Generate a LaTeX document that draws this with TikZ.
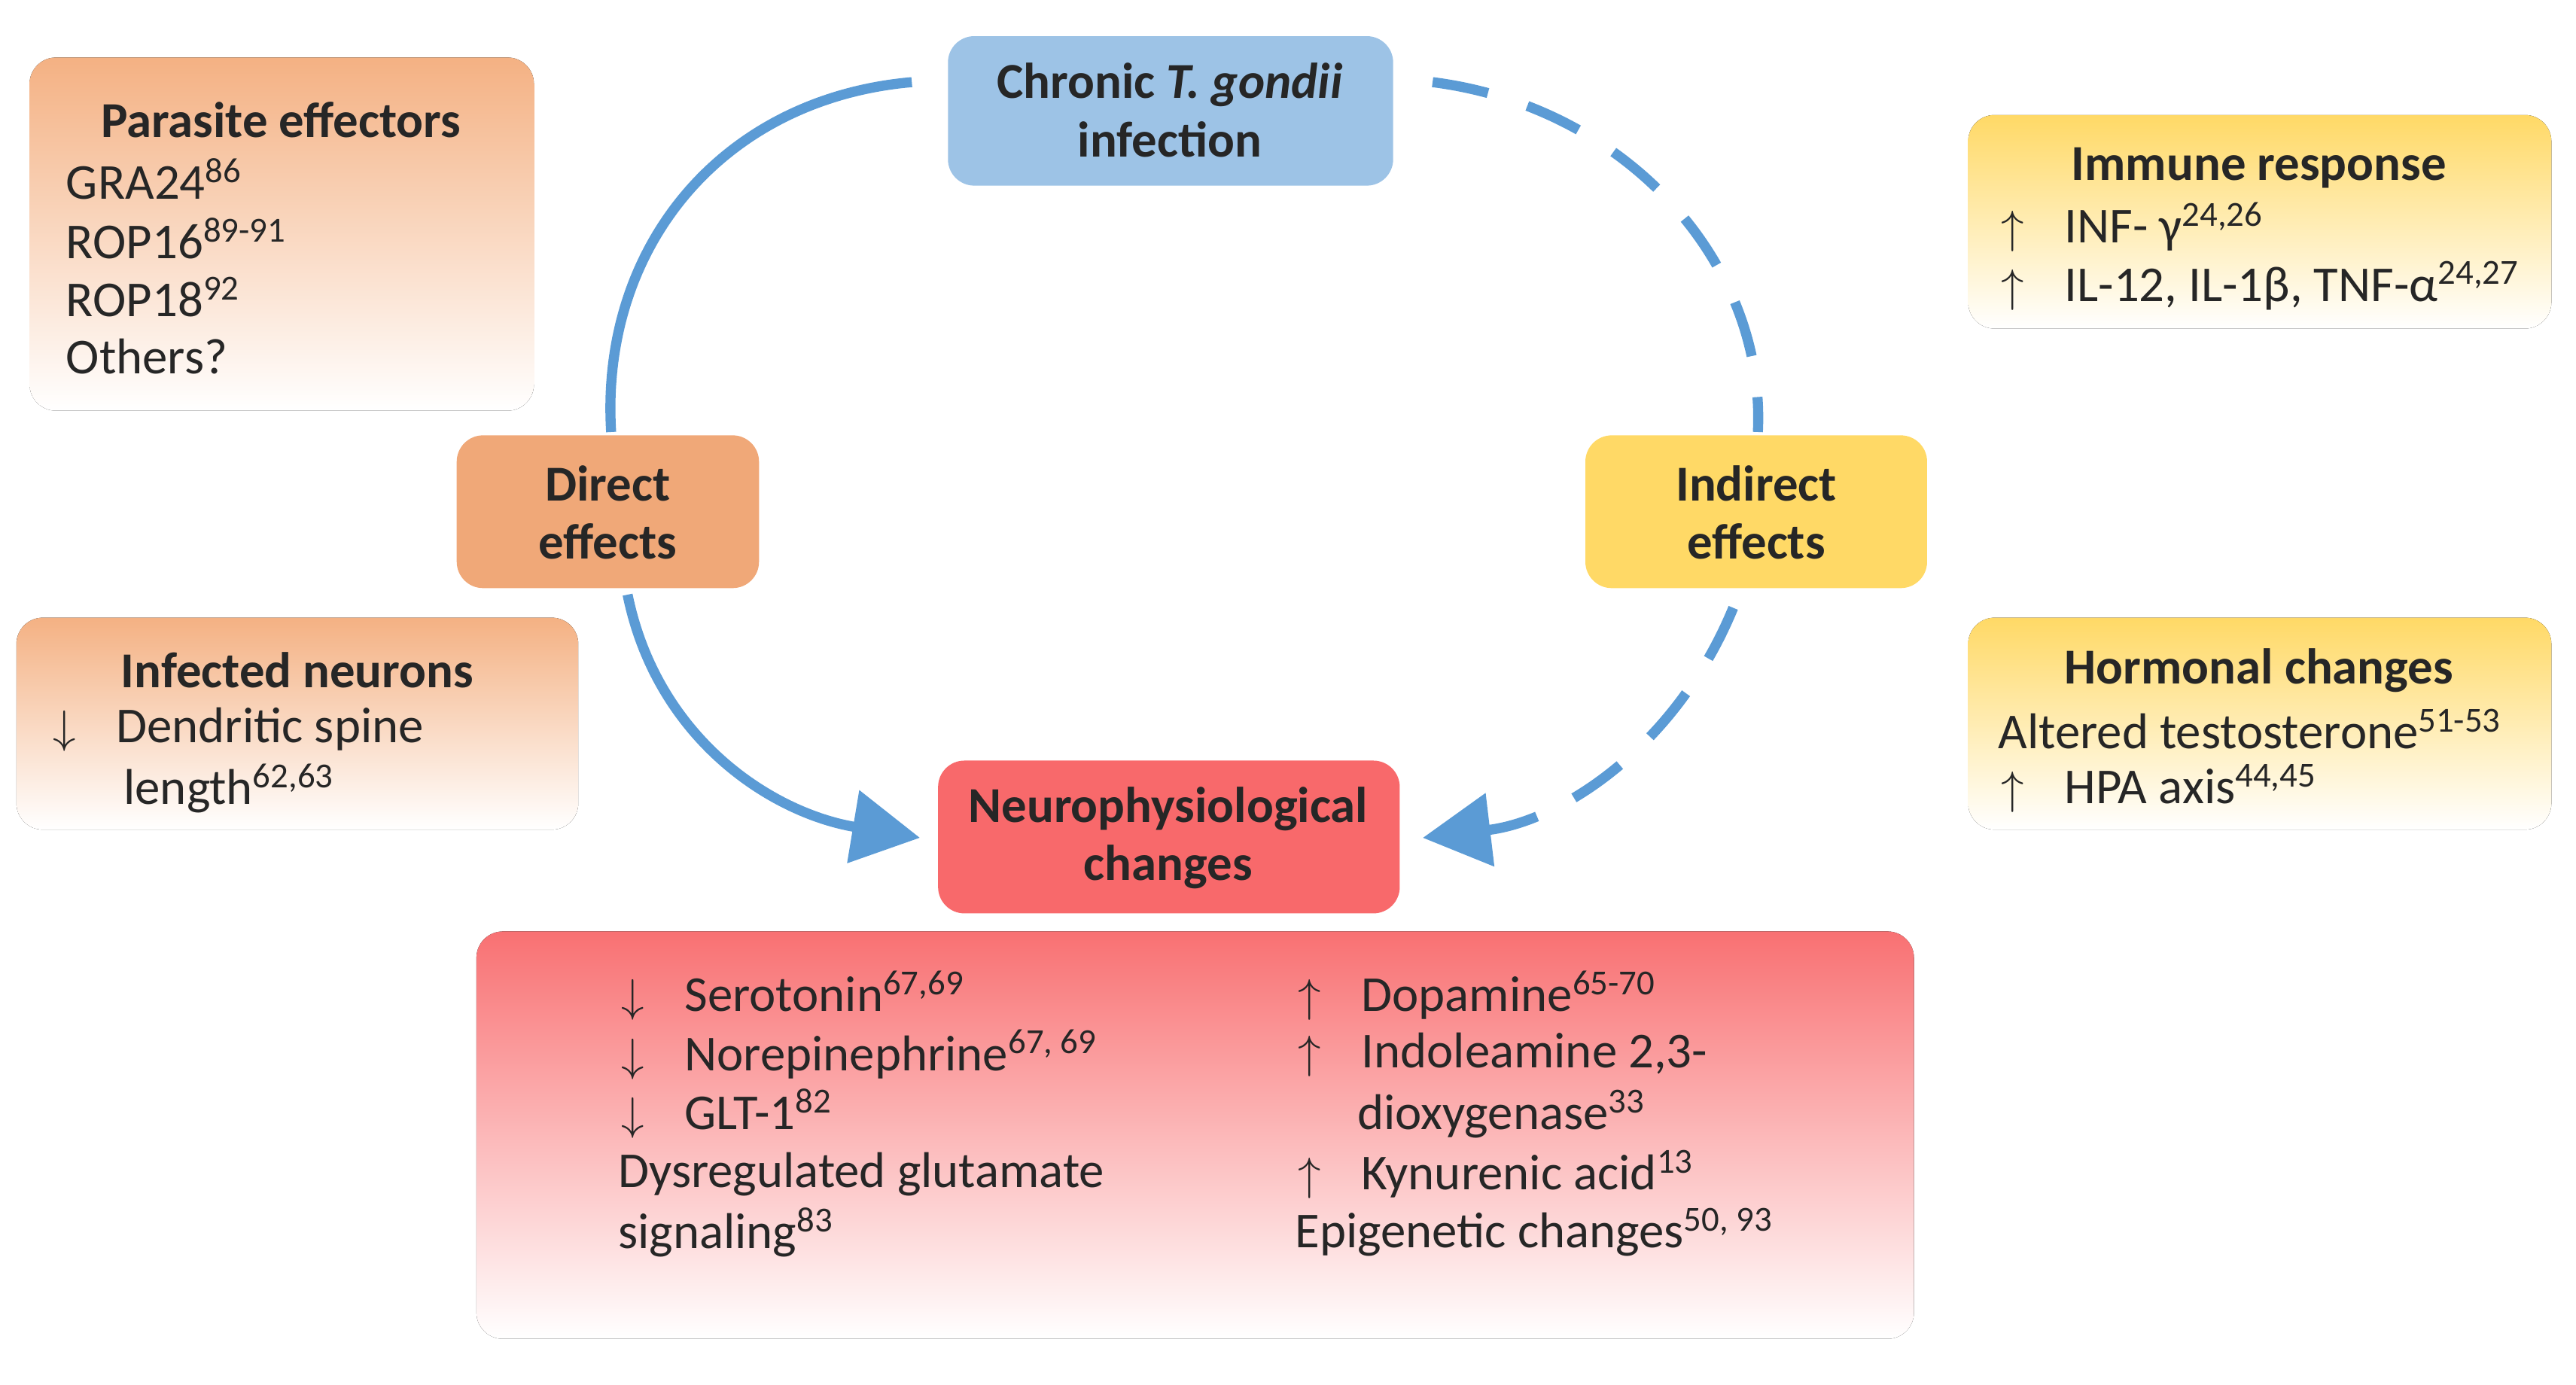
\documentclass[tikz,border=0pt]{standalone}
\usepackage{fontspec}
\setmainfont{Carlito}
\usetikzlibrary{arrows.meta}
\definecolor{cblue}{HTML}{9DC3E6}
\definecolor{corange}{HTML}{F4B183}
\definecolor{corangeD}{HTML}{F0A878}
\definecolor{cyellow}{HTML}{FFD966}
\definecolor{cred}{HTML}{F8696B}
\definecolor{carrow}{HTML}{5B9BD5}
\begin{document}
\begin{tikzpicture}[x=0.02182cm,y=-0.02182cm,
  box/.style={rounded corners=0.35cm,inner sep=0pt},
  lab/.style={font=\fontsize{19}{22}\selectfont\bfseries,align=center,text=black!85},
  txt/.style={font=\fontsize{19}{22}\selectfont,anchor=west,inner sep=0pt,text=black!85},
  arr/.style={draw=carrow,line width=3.8pt}]
\useasboundingbox (0,0) rectangle (1568,843);
% boxes
\fill[box,top color=corange,middle color=corange!80,bottom color=white] (18,35) rectangle (325,250);
\fill[box,top color=corange,middle color=corange!75,bottom color=white] (10,376) rectangle (352,505);
\fill[box,top color=cyellow,middle color=cyellow!80,bottom color=white] (1198,70) rectangle (1553,200);
\fill[box,top color=cyellow,middle color=cyellow!80,bottom color=white] (1198,376) rectangle (1553,505);
\fill[box,top color=cred!95,middle color=cred,bottom color=white] (290,567) rectangle (1165,815);
\fill[box,fill=cblue] (577,22) rectangle (848,113);
\fill[box,fill=corangeD] (278,265) rectangle (462,358);
\fill[box,fill=cyellow] (965,265) rectangle (1173,358);
\fill[box,fill=cred] (571,463) rectangle (852,556);
% titles
\node[lab] (chr) at (712,67) {Chronic \textit{T. gondii}\\infection};
\node[lab] (dir) at (370,312) {Direct\\effects};
\node[lab] (ind) at (1069,312) {Indirect\\effects};
\node[lab] (neu) at (711,510) {Neurophysiological\\changes};
\node[lab] (pe) at (171,73) {Parasite effectors};
\node[lab] (inn) at (181,408) {Infected neurons};
\node[lab] (imm) at (1375,102) {Immune response};
\node[lab] (hor) at (1375,408) {Hormonal changes};
% texts
\node[txt] (t1) at (40,109) {GRA24\textsuperscript{86}};
\node[txt] (t2) at (40,145) {ROP16\textsuperscript{89-91}};
\node[txt] (t3) at (40,181) {ROP18\textsuperscript{92}};
\node[txt] (t4) at (40,217) {Others?};
\node[txt] (n1) at (32,444) {$\downarrow$\hspace{0.8em}Dendritic spine};
\node[txt] (n2) at (75,480) {length\textsuperscript{62,63}};
\node[txt] (i1) at (1218,138) {$\uparrow$\hspace{0.8em}INF- γ\textsuperscript{24,26}};
\node[txt] (i2) at (1218,174) {$\uparrow$\hspace{0.8em}IL-12, IL-1β, TNF-α\textsuperscript{24,27}};
\node[txt] (h1) at (1216,444) {Altered testosterone\textsuperscript{51-53}};
\node[txt] (h2) at (1218,480) {$\uparrow$\hspace{0.8em}HPA axis\textsuperscript{44,45}};
\node[txt] (b1) at (378,606) {$\downarrow$\hspace{0.8em}Serotonin\textsuperscript{67,69}};
\node[txt] (b2) at (378,642) {$\downarrow$\hspace{0.8em}Norepinephrine\textsuperscript{67, 69}};
\node[txt] (b3) at (378,678) {$\downarrow$\hspace{0.8em}GLT-1\textsuperscript{82}};
\node[txt] (b4) at (376,715) {Dysregulated glutamate};
\node[txt] (b5) at (376,750) {signaling\textsuperscript{83}};
\node[txt] (c1) at (790,606) {$\uparrow$\hspace{0.8em}Dopamine\textsuperscript{65-70}};
\node[txt] (c2) at (790,642) {$\uparrow$\hspace{0.8em}Indoleamine 2,3-};
\node[txt] (c3) at (826,678) {dioxygenase\textsuperscript{33}};
\node[txt] (c4) at (790,715) {$\uparrow$\hspace{0.8em}Kynurenic acid\textsuperscript{13}};
\node[txt] (c5) at (788,750) {Epigenetic changes\textsuperscript{50, 93}};
% arrows
\coordinate (a1) at (555,50); \coordinate (a2) at (372,263);
\coordinate (a3) at (382,362); \coordinate (a4) at (560,510);
\coordinate (d1) at (872,50); \coordinate (d2) at (1070,263);
\coordinate (d3) at (1055,370); \coordinate (d4) at (866,510);
\draw[arr] (a1) .. controls (440,60) and (365,150) .. (a2);
\draw[arr,-{Triangle[length=0.9cm,width=0.95cm]}] (a3) .. controls (400,450) and (470,495) .. (a4);
\draw[arr,dash pattern=on 0.75cm off 0.55cm] (d1) .. controls (990,65) and (1075,160) .. (d2);
\draw[arr,dash pattern=on 0.75cm off 0.55cm,-{Triangle[length=0.9cm,width=0.95cm]}] (d3) .. controls (1020,455) and (950,500) .. (d4);
\end{tikzpicture}
\end{document}
